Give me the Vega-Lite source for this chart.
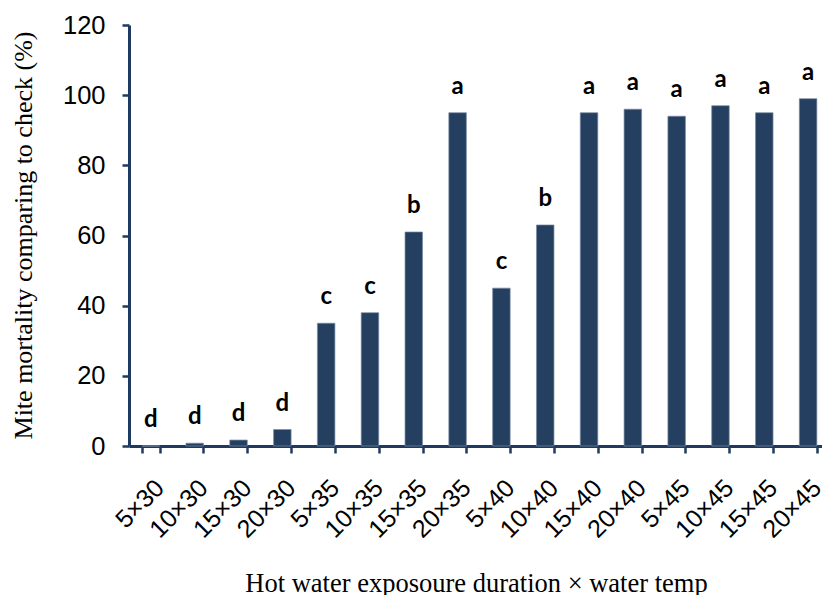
{
  "$schema": "https://vega.github.io/schema/vega-lite/v6.json",
  "autosize": {"type": "none"},
  "padding": {"left": 129, "top": 25, "right": 0, "bottom": 149},
  "width": 693,
  "height": 421,
  "background": "white",
  "config": {"view": {"stroke": null}},
  "data": {
    "values": [
      {"treatment": "5×30", "mortality": 0, "letter": "d"},
      {"treatment": "10×30", "mortality": 0.8, "letter": "d"},
      {"treatment": "15×30", "mortality": 1.7, "letter": "d"},
      {"treatment": "20×30", "mortality": 4.7, "letter": "d"},
      {"treatment": "5×35", "mortality": 35, "letter": "c"},
      {"treatment": "10×35", "mortality": 38, "letter": "c"},
      {"treatment": "15×35", "mortality": 61, "letter": "b"},
      {"treatment": "20×35", "mortality": 95, "letter": "a"},
      {"treatment": "5×40", "mortality": 45, "letter": "c"},
      {"treatment": "10×40", "mortality": 63, "letter": "b"},
      {"treatment": "15×40", "mortality": 95, "letter": "a"},
      {"treatment": "20×40", "mortality": 96, "letter": "a"},
      {"treatment": "5×45", "mortality": 94, "letter": "a"},
      {"treatment": "10×45", "mortality": 97, "letter": "a"},
      {"treatment": "15×45", "mortality": 95, "letter": "a"},
      {"treatment": "20×45", "mortality": 99, "letter": "a"}
    ]
  },
  "encoding": {
    "x": {
      "field": "treatment",
      "type": "nominal",
      "sort": null,
      "scale": {"paddingInner": 0.6, "paddingOuter": 0.3, "range": [0, 701]},
      "axis": {
        "title": "Hot water exposoure duration × water temp",
        "titleFont": "Liberation Serif",
        "titleFontSize": 26.5,
        "titleFontWeight": "normal",
        "titleColor": "black",
        "titleX": 347,
        "titleY": 145,
        "titleBaseline": "alphabetic",
        "titleAlign": "center",
        "labelAngle": -45,
        "labelAlign": "right",
        "labelBaseline": "top",
        "labelOffset": 0,
        "labelPadding": 22,
        "labelFont": "Liberation Sans",
        "labelFontSize": 25,
        "labelColor": "black",
        "labelOverlap": false,
        "tickBand": "extent",
        "tickSize": 7,
        "tickWidth": 2.5,
        "tickColor": "#1F3A60",
        "domainColor": "#1F3A60",
        "domainWidth": 3,
        "grid": false
      }
    },
    "y": {
      "field": "mortality",
      "type": "quantitative",
      "scale": {"domain": [0, 120], "nice": false},
      "axis": {
        "title": "Mite mortality comparing to check (%)",
        "titleFont": "Liberation Serif",
        "titleFontSize": 26,
        "titleFontWeight": "normal",
        "titleColor": "black",
        "titleX": -98,
        "titleY": 210,
        "titleBaseline": "alphabetic",
        "titleAlign": "center",
        "values": [0, 20, 40, 60, 80, 100, 120],
        "labelFont": "Liberation Sans",
        "labelFontSize": 25.5,
        "labelColor": "black",
        "labelPadding": 17,
        "tickSize": 7,
        "tickWidth": 2.5,
        "tickColor": "#1F3A60",
        "domainColor": "#1F3A60",
        "domainWidth": 3,
        "grid": false
      }
    }
  },
  "layer": [
    {
      "mark": {"type": "bar", "color": "#243F60", "stroke": "#7d8ca3", "strokeWidth": 0.7}
    },
    {
      "mark": {"type": "text", "font": "Lato", "fontWeight": "bold", "fontSize": 24, "baseline": "alphabetic", "dy": -19, "color": "black"},
      "encoding": {"text": {"field": "letter"}}
    }
  ]
}
